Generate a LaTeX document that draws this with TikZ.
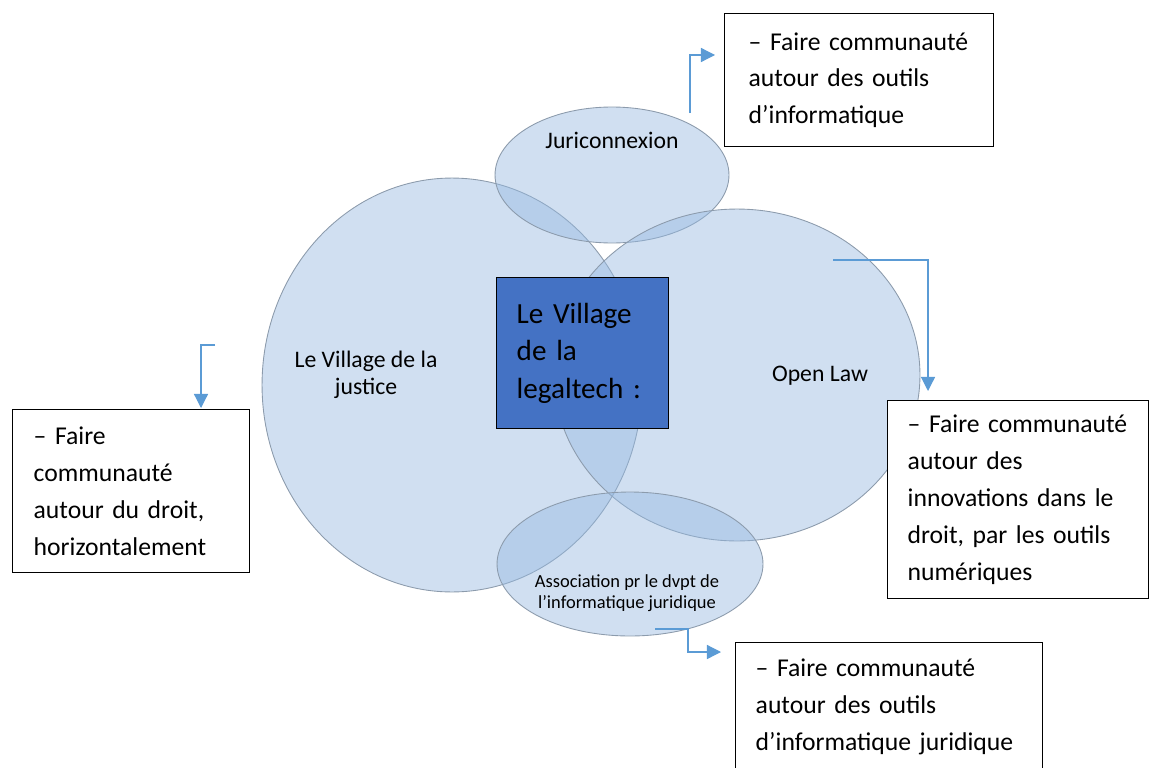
\documentclass[tikz,border=0pt]{standalone}
\usepackage{fontspec}
\setmainfont{Carlito}
\usetikzlibrary{arrows.meta,shapes.geometric}
\definecolor{bubblefill}{RGB}{150,185,225}
\definecolor{bubbleline}{RGB}{140,155,172}
\definecolor{linkblue}{RGB}{91,155,213}
\definecolor{hubblue}{RGB}{68,114,196}
\tikzset{
	bubble/.style={ellipse, draw=bubbleline, line width=0.5pt, fill=bubblefill, fill opacity=0.45, inner sep=0pt, outer sep=0pt},
	infobox/.style={draw=black, line width=0.8pt, fill=white, anchor=north west, align=left, inner ysep=0pt, inner xsep=0.42cm, font=\fontsize{14.6}{21}\selectfont},
	link/.style={draw=linkblue, line width=0.7pt, -{Triangle[length=8pt,width=8pt]}}
}
\begin{document}
\begin{tikzpicture}[x=0.02cm,y=-0.02cm]
		%%%%% START %%%%%
		\useasboundingbox (0,0) rectangle (1151,767);
		
		\node[bubble, minimum width=7.6cm, minimum height=8.28cm] (justice) at (452,385) {};
		\node[bubble, minimum width=4.68cm, minimum height=2.72cm] (juri) at (612,175) {};
		\node[bubble, minimum width=7.32cm, minimum height=6.64cm] (openlaw) at (737,375) {};
		\node[bubble, minimum width=5.32cm, minimum height=2.88cm] (asso) at (630,564) {};
		
		\node[font=\fontsize{13.5}{15.3}\selectfont] (jurilabel) at (612,140) {Juriconnexion};
		\node[align=center, font=\fontsize{13.5}{15.3}\selectfont] (justicelabel) at (366,375) {Le Village de la\\justice};
		\node[font=\fontsize{13.5}{15.3}\selectfont] (openlawlabel) at (820,376) {Open Law};
		\node[align=center, font=\fontsize{10.5}{12}\selectfont] (assolabel) at (627,593) {Association pr le dvpt de\\l’informatique juridique};
		
		\node[draw=black, line width=0.8pt, fill=hubblue, anchor=north west, align=left, text width=2.64cm, inner xsep=0.4cm, minimum height=3.02cm, font=\fontsize{16.6}{21.3}\selectfont] (hub) at (496,277) {Le Village\\de la\\legaltech :};
		
		\node[infobox, text width=4.42cm, minimum height=2.66cm, inner xsep=0.48cm] (juribox) at (724,13) {– Faire communauté\\autour des outils\\d’informatique};
		\node[infobox, text width=3.9cm, minimum height=3.26cm] (justicebox) at (12,409) {– Faire\\communauté\\autour du droit,\\horizontalement};
		\node[infobox, text width=4.42cm, minimum height=3.96cm, inner xsep=0.4cm] (openlawbox) at (887,400) {– Faire communauté\\autour des\\innovations dans le\\droit, par les outils\\numériques};
		\node[infobox, text width=5.34cm, inner xsep=0.4cm, inner ysep=0.32cm] (assobox) at (735,642) {– Faire communauté\\autour des outils\\d’informatique juridique\\\mbox{}};
		
		\coordinate (jurifrom) at (690,113);
		\coordinate (jurito) at (715,55);
		\coordinate (justicefrom) at (215,345);
		\coordinate (justiceto) at (201,408);
		\coordinate (openlawfrom) at (833,260);
		\coordinate (openlawto) at (928,391);
		\coordinate (assofrom) at (655,629);
		\coordinate (assobend) at (688,629);
		\coordinate (assoto) at (721,652);
		
		\draw[link] (jurifrom) |- (jurito);
		\draw[link] (justicefrom) -| (justiceto);
		\draw[link] (openlawfrom) -| (openlawto);
		\draw[link] (assofrom) -- (assobend) |- (assoto);
		%%%%% END %%%%%
	\end{tikzpicture}
\end{document}
